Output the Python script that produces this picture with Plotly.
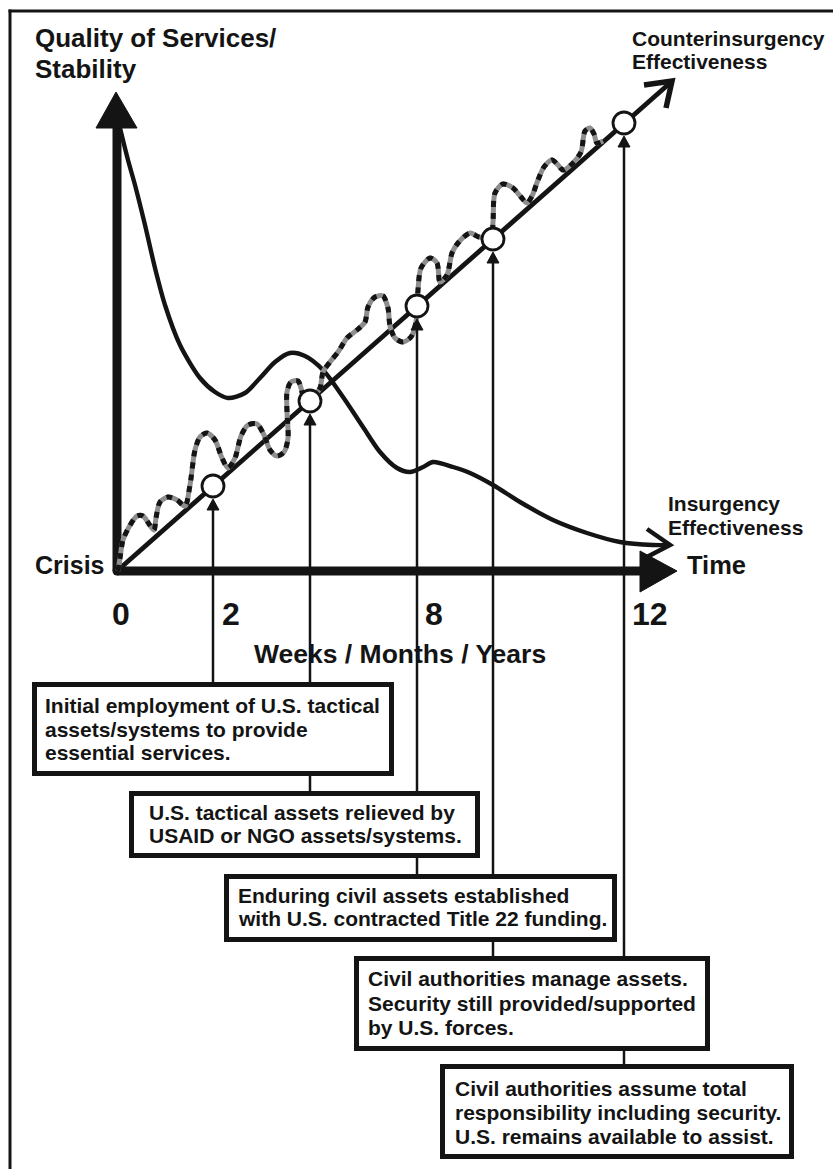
import plotly.graph_objects as go

# Chart coordinates: origin at the "Crisis" point, x to the right, y upward (1 unit = 1 px)
X_RANGE = [-117, 716]
Y_RANGE = [-598, 571]

# Insurgency effectiveness curve
insurgency_x = [3, 11, 18, 28, 38, 48, 63, 83, 98, 111, 128, 143, 158, 173, 188, 206, 226, 246,
                263, 280, 293, 306, 316, 336, 353, 376, 403, 436, 470, 503, 536, 553]
insurgency_y = [443, 411, 386, 346, 303, 266, 226, 193, 179, 173, 178, 193, 209, 218, 215, 201, 174, 144,
                119, 103, 99, 104, 109, 104, 98, 86, 69, 51, 38, 29, 26, 26]

# Quality of services (wavy dashed line)
services_x = [1, 3, 6, 12, 20, 26, 32, 37, 39, 43, 51, 60, 68, 73, 78, 83, 90, 98, 105, 111, 118, 124,
              131, 140, 147, 153, 160, 167, 171, 170, 170, 174, 181, 185, 188, 193, 203, 206, 213, 221,
              230, 240, 248, 251, 258, 266, 271, 273, 278, 286, 294, 299, 300, 301, 304, 313, 320, 323,
              330, 335, 341, 353, 362, 374, 376, 378, 386, 396, 404, 410, 415, 421, 427, 435, 441, 446,
              456, 464, 468, 473, 477, 480, 486]
services_y = [0, 13, 31, 44, 55, 55, 47, 41, 53, 69, 74, 71, 65, 86, 121, 134, 138, 131, 113, 103, 113, 135,
              146, 147, 136, 121, 115, 119, 133, 159, 179, 189, 190, 179, 166, 170, 183, 199, 209, 219,
              233, 241, 249, 264, 274, 275, 263, 245, 233, 229, 234, 249, 263, 281, 303, 313, 308, 289,
              296, 318, 328, 338, 334, 334, 349, 378, 387, 383, 374, 368, 375, 391, 404, 411, 406, 401,
              408, 419, 440, 443, 437, 428, 430]

# Counterinsurgency effectiveness line (end point)
coin_end = (555, 490)

# Milestones on the counterinsurgency line
milestone_x = [96, 193, 300, 376, 507]
milestone_y = [85, 170, 265, 332, 448]

# Time axis tick labels
tick_labels = ["0", "2", "8", "12"]
tick_pos = [4, 114, 317, 533]

# Milestone boxes
box_left = [-85, 12, 107, 237, 323]
box_right = [277, 363, 500, 593, 677]
box_top = [-111, -220, -303, -385, -493]
box_bottom = [-205, -287, -371, -480, -588]
box_text_x = [-74, 30, 119, 249, 336]
box_lines = [
    ["Initial employment of U.S. tactical", "assets/systems to provide", "essential services."],
    ["U.S. tactical assets relieved by", "USAID or NGO assets/systems."],
    ["Enduring civil assets established", "with U.S. contracted Title 22 funding."],
    ["Civil authorities manage assets.", "Security still provided/supported", "by U.S. forces."],
    ["Civil authorities assume total", "responsibility including security.", "U.S. remains available to assist."],
]
box_line_y = [[-134, -158, -181], [-241, -264], [-324, -347], [-407, -432, -456], [-517, -541, -565]]

FONT = "Liberation Sans, Arial, sans-serif"
INK = "#141414"

fig = go.Figure()
shapes = []
annots = []

# Outer frame (top and left edges visible)
shapes.append(dict(type="line", x0=-108.5, x1=720, y0=560, y1=560, line=dict(color=INK, width=3), layer="below"))
shapes.append(dict(type="line", x0=-107, x1=-107, y0=561.5, y1=-600, line=dict(color=INK, width=3), layer="below"))

# Vertical milestone connectors (drawn beneath boxes)
for mx, my, bt in zip(milestone_x, milestone_y, box_top):
    shapes.append(dict(type="line", x0=mx, x1=mx, y0=my - 20, y1=bt, line=dict(color=INK, width=2.5), layer="above"))
    shapes.append(dict(type="path", path=f"M {mx-6},{my-24} L {mx},{my-13} L {mx+6},{my-24} Z",
                       fillcolor=INK, line=dict(color=INK, width=1), layer="above"))

# Boxes
for l, r, t, b in zip(box_left, box_right, box_top, box_bottom):
    shapes.append(dict(type="rect", x0=l + 2.5, x1=r - 2.5, y0=t - 2.5, y1=b + 2.5,
                       line=dict(color=INK, width=5), fillcolor="white", layer="above"))

# Axes (thick) with filled arrowheads
shapes.append(dict(type="line", x0=0, x1=0, y0=0, y1=446, line=dict(color=INK, width=9), layer="below"))
shapes.append(dict(type="line", x0=0, x1=526, y0=0, y1=0, line=dict(color=INK, width=9), layer="below"))
shapes.append(dict(type="path", path="M -21,443 L -1,479 L 20,443 Z", fillcolor=INK, line=dict(color=INK, width=1)))
shapes.append(dict(type="path", path="M 523,20 L 560,0 L 523,-21 Z", fillcolor=INK, line=dict(color=INK, width=1)))

# Counterinsurgency line with open arrowhead
cx, cy = coin_end
shapes.append(dict(type="line", x0=0, x1=cx - 2, y0=0, y1=cy - 2, line=dict(color=INK, width=4.8), layer="below"))
shapes.append(dict(type="path", path=f"M 527,486 L {cx},{cy} L 549,463", line=dict(color=INK, width=5.5),
                   fillcolor="rgba(0,0,0,0)"))

# Insurgency curve arrowhead
shapes.append(dict(type="path", path="M 530,42 L 553,26 L 528,13", line=dict(color=INK, width=4.5),
                   fillcolor="rgba(0,0,0,0)"))

# Origin corner rounding
fig.add_trace(go.Scatter(x=[0], y=[0], mode="markers", marker=dict(size=9, color=INK), hoverinfo="skip"))

# Insurgency effectiveness curve
fig.add_trace(go.Scatter(x=insurgency_x, y=insurgency_y, mode="lines",
                         line=dict(color=INK, width=4.4, shape="spline", smoothing=0.8), hoverinfo="skip"))

# Quality of services wavy line: gray base + black dashes
fig.add_trace(go.Scatter(x=services_x, y=services_y, mode="lines",
                         line=dict(color="#8e8e8e", width=5, shape="spline", smoothing=0.8), hoverinfo="skip"))
fig.add_trace(go.Scatter(x=services_x, y=services_y, mode="lines",
                         line=dict(color=INK, width=5, dash="6px,6px", shape="spline", smoothing=0.8),
                         hoverinfo="skip"))

# Milestone circles
fig.add_trace(go.Scatter(x=milestone_x, y=milestone_y, mode="markers",
                         marker=dict(size=22, color="white", line=dict(color=INK, width=2.8)), hoverinfo="skip"))


def txt(x, y, s, size, anchor="left"):
    annots.append(dict(x=x, y=y, text=s, showarrow=False, xanchor=anchor, yanchor="middle",
                       font=dict(family=FONT, size=size, color=INK), xref="x", yref="y"))


def bold(s):
    return f"<b>{s}</b>"


txt(-84, 533, bold("Quality of Services/"), 26)
txt(-84, 502, bold("Stability"), 26)
txt(513, 533, bold("Counterinsurgency"), 21)
txt(513, 510, bold("Effectiveness"), 21)
txt(549, 68, bold("Insurgency"), 21)
txt(549, 44, bold("Effectiveness"), 21)
txt(-84, 6, bold("Crisis"), 25)
txt(568, 6, bold("Time"), 25.5)
for lab, pos in zip(tick_labels, tick_pos):
    txt(pos, -43, bold(lab), 32, anchor="center")
txt(135, -83, bold("Weeks / Months / Years"), 26.5)

for tx, lines, ys in zip(box_text_x, box_lines, box_line_y):
    for s, y in zip(lines, ys):
        txt(tx, y, bold(s), 21)

fig.update_layout(
    width=833, height=1169,
    margin=dict(l=0, r=0, t=0, b=0),
    paper_bgcolor="white", plot_bgcolor="white",
    showlegend=False,
    xaxis=dict(range=X_RANGE, visible=False, fixedrange=True),
    yaxis=dict(range=Y_RANGE, visible=False, fixedrange=True),
    shapes=shapes,
    annotations=annots,
)

fig.write_html("out.html", config={"displayModeBar": False},
               post_script="document.body.style.margin='0';document.body.style.overflow='hidden';")
